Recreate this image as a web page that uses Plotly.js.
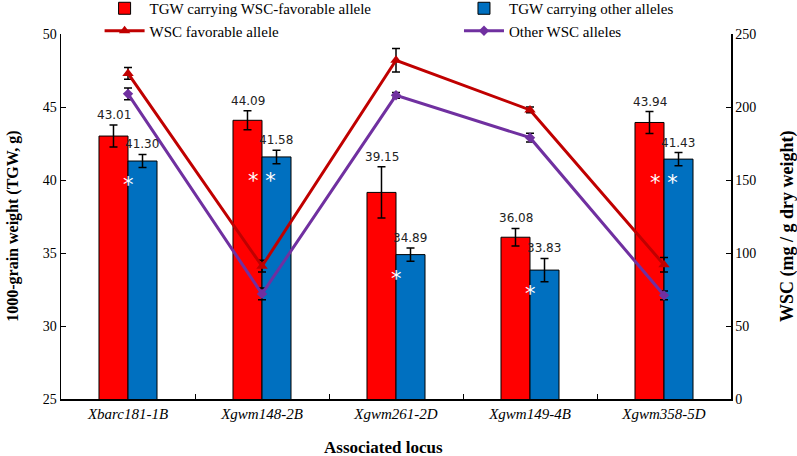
<!DOCTYPE html>
<html><head><meta charset="utf-8">
<script src="https://cdn.plot.ly/plotly-3.0.1.min.js"></script>
<style>body{margin:0;background:#fff}#c{width:797px;height:456px}</style>
</head><body><div id="c"></div>
<script>
const loci = ['Xbarc181-1B','Xgwm148-2B','Xgwm261-2D','Xgwm149-4B','Xgwm358-5D'];
const tgwFav = [43.01, 44.09, 39.15, 36.08, 43.94];
const tgwFavErr = [0.75, 0.65, 1.75, 0.6, 0.75];
const tgwOther = [41.30, 41.58, 34.89, 33.83, 41.43];
const tgwOtherErr = [0.45, 0.46, 0.46, 0.8, 0.45];
const wscFav = [223, 91, 232, 198, 92];
const wscFavErr = [4, 4, 8, 2, 5];
const wscOther = [209, 72, 208, 179, 71];
const wscOtherErr = [4, 4, 2, 3, 3];
const sig = ['*', '* *', '*', '*', '* *'];
const leftTitle = '1000-grain weight (TGW, g)';
const rightTitle = 'WSC (mg / g dry weight)';
const xTitle = 'Associated locus';

const serif = 'Liberation Serif, Times New Roman, serif';
const idx = loci.map((_, i) => i);
const off = 0.108;

const traces = [
  {type:'bar', x:loci, y:tgwFav, name:'TGW carrying WSC-favorable allele',
   marker:{color:'#FF0000', line:{color:'#000', width:1}},
   error_y:{type:'data', array:tgwFavErr, color:'#000', thickness:1.5, width:4},
   legend:'legend'},
  {type:'bar', x:loci, y:tgwOther, name:'TGW carrying other alleles',
   marker:{color:'#0070C0', line:{color:'#000', width:1}},
   error_y:{type:'data', array:tgwOtherErr, color:'#000', thickness:1.5, width:4},
   legend:'legend2'},
  {type:'scatter', mode:'lines+markers', x:loci, y:wscFav, yaxis:'y2', name:'WSC favorable allele',
   line:{color:'#C00000', width:3}, marker:{symbol:'triangle-up', size:10, color:'#C00000'},
   error_y:{type:'data', array:wscFavErr, color:'#000', thickness:1.5, width:4},
   legend:'legend'},
  {type:'scatter', mode:'lines+markers', x:loci, y:wscOther, yaxis:'y2', name:'Other WSC alleles',
   line:{color:'#7030A0', width:3}, marker:{symbol:'diamond', size:8, color:'#7030A0'},
   error_y:{type:'data', array:wscOtherErr, color:'#000', thickness:1.5, width:4},
   legend:'legend2'}
];

const ann = [];
idx.forEach(i => {
  ann.push({xref:'x', yref:'y', x:i-off, y:tgwFav[i]+tgwFavErr[i], text:tgwFav[i].toFixed(2),
    showarrow:false, yanchor:'bottom', yshift:1, font:{family:'DejaVu Sans, Verdana, sans-serif', size:12, color:'#222'}});
  ann.push({xref:'x', yref:'y', x:i+off, y:tgwOther[i]+tgwOtherErr[i], text:tgwOther[i].toFixed(2),
    showarrow:false, yanchor:'bottom', yshift:1, font:{family:'DejaVu Sans, Verdana, sans-serif', size:12, color:'#222'}});
  ann.push({xref:'x', yref:'y', x:i, y:tgwOther[i], text:sig[i],
    showarrow:false, yanchor:'middle', yshift:-24, font:{family:'DejaVu Sans, sans-serif', size:21, color:'#fff'}});
});
ann.push({xref:'paper', yref:'paper', x:-0.072, y:0.474, text:'<b>'+leftTitle+'</b>', textangle:-90,
  showarrow:false, xanchor:'center', yanchor:'middle', font:{family:serif, size:16, color:'#000'}});
ann.push({xref:'paper', yref:'paper', x:1.085, y:0.474, text:'<b>'+rightTitle+'</b>', textangle:-90,
  showarrow:false, xanchor:'center', yanchor:'middle', font:{family:serif, size:18, color:'#000'}});
ann.push({xref:'paper', yref:'paper', x:0.482, y:-0.134, text:'<b>'+xTitle+'</b>',
  showarrow:false, xanchor:'center', yanchor:'middle', font:{family:serif, size:17, color:'#000'}});

const layout = {
  width:797, height:456,
  margin:{l:61, r:66, t:34, b:57, autoexpand:false},
  paper_bgcolor:'#fff', plot_bgcolor:'#fff',
  barmode:'group', bargap:0.567, bargroupgap:0,
  showlegend:true,
  font:{family:serif, color:'#000'},
  xaxis:{type:'category', showline:true, linecolor:'#000', linewidth:1.5, ticks:'inside', ticklen:5,
    tickson:'boundaries', tickcolor:'#000', tickfont:{family:serif, size:15, style:'italic'}, tickangle:0,
    zeroline:false, showgrid:false},
  yaxis:{range:[25,50], dtick:5, showline:true, linecolor:'#000', linewidth:1.5, ticks:'inside', ticklen:5,
    tickcolor:'#000', tickfont:{family:serif, size:14}, showgrid:false, zeroline:false},
  yaxis2:{range:[0,250], dtick:50, overlaying:'y', side:'right', showline:true, linecolor:'#000', linewidth:1.5,
    ticks:'inside', ticklen:5, tickcolor:'#000', tickfont:{family:serif, size:14}, showgrid:false, zeroline:false},
  legend:{xref:'paper', yref:'paper', x:0.0576, y:1.115, xanchor:'left', yanchor:'top',
    font:{family:serif, size:15}, itemwidth:40, tracegroupgap:0, bgcolor:'rgba(0,0,0,0)'},
  legend2:{xref:'paper', yref:'paper', x:0.594, y:1.115, xanchor:'left', yanchor:'top',
    font:{family:serif, size:15}, itemwidth:40, tracegroupgap:0, bgcolor:'rgba(0,0,0,0)'},
  annotations:ann
};

Plotly.newPlot('c', traces, layout, {displayModeBar:false, staticPlot:true});
</script></body></html>
